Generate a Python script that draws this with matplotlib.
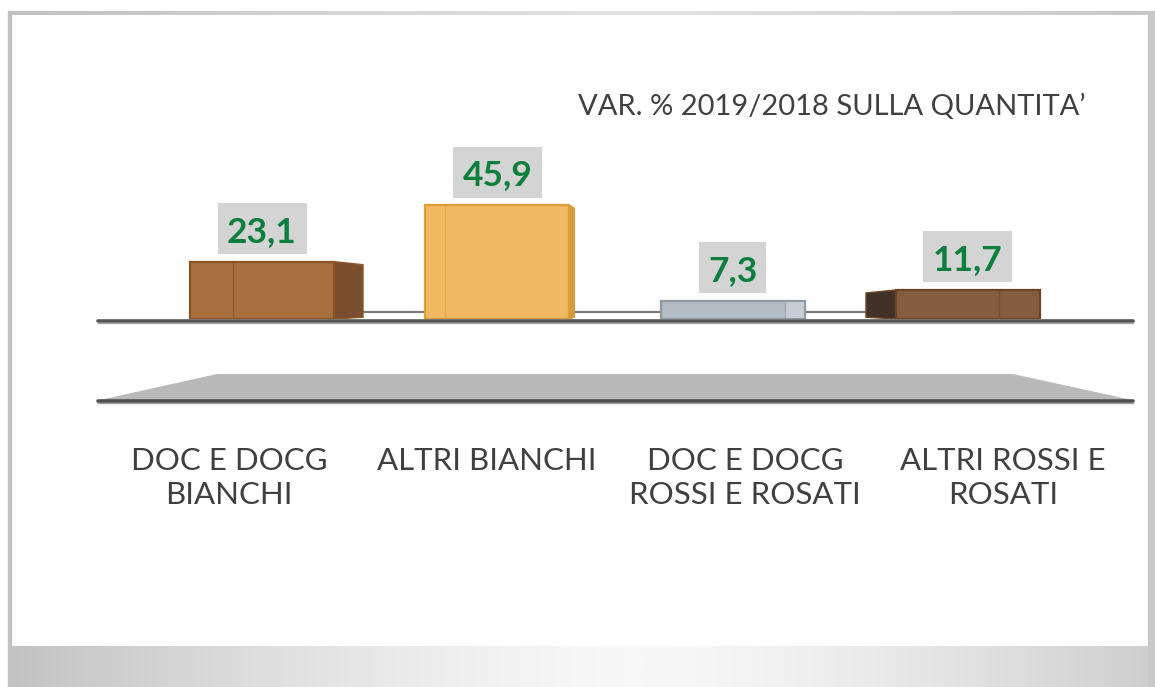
import numpy as np
import matplotlib
matplotlib.use("Agg")
import matplotlib.pyplot as plt
from matplotlib.patches import Rectangle, Polygon
from matplotlib.colors import LinearSegmentedColormap

# ---------------- data ----------------
categories = ["DOC E DOCG\nBIANCHI", "ALTRI BIANCHI",
              "DOC E DOCG\nROSSI E ROSATI", "ALTRI ROSSI E\nROSATI"]
values = [23.1, 45.9, 7.3, 11.7]
value_labels = ["23,1", "45,9", "7,3", "11,7"]
title = "VAR. % 2019/2018 SULLA QUANTITA\u2019"

# ---------------- styles ----------------
front_colors = ["#a96e3d", "#f0b962", "#b3bcc5", "#855c3f"]
edge_colors = ["#8a5426", "#dc9c3a", "#8f99a3", "#6a4526"]
side_colors = ["#7a4f2f", "#d99a3c", "#c9d0d6", "#42322a"]
side_dir = [1, 1, 1, -1]           # +1: side face on right, -1: on left
side_px = [29, 5, 0, 30]           # visible depth of side face (pixels)
inner_px = [43, 20, 20, 41]        # inner perspective line offset (pixels)
inner_from = [-1, -1, 1, 1]        # -1: measured from left edge, +1: from right
green = "#0b7f3b"
txt_gray = "#404040"
FONT = "Lato"

W, H = 1155, 687
fig = plt.figure(figsize=(W / 100, H / 100), dpi=100)
fig.patch.set_facecolor("white")

# ---------------- background / frame (pixel coords) ----------------
bg = fig.add_axes([0, 0, 1, 1])
bg.set_xlim(0, W)
bg.set_ylim(H, 0)
bg.axis("off")

tg = np.linspace(0, 1, 400)
top_vals = 1 - np.abs(tg - 0.55) * 1.6
cm_top = LinearSegmentedColormap.from_list("t", ["#bdbdbd", "#e4e4e4"])
bg.imshow(top_vals[None, :], extent=(8, 1155, 15.5, 11.5), aspect="auto",
          cmap=cm_top, vmin=0, vmax=1, zorder=1)
bg.add_patch(Rectangle((8, 12), 2.5, H - 12, color="#c2c2c2", zorder=1))
bg.add_patch(Rectangle((1148, 14), 7, H - 14, color="#c9c9c9", zorder=1))
bx = np.linspace(0, 1, 600)
band = 1 - np.clip(np.abs(bx - 0.55) / 0.55, 0, 1) ** 1.4
cm_band = LinearSegmentedColormap.from_list("b", ["#c2c2c2", "#f8f8f8"])
bg.imshow(band[None, :], extent=(8, 1148, H, 646), aspect="auto",
          cmap=cm_band, vmin=0, vmax=1, zorder=1)

# floor shadow trapezoid
bg.add_patch(Polygon([(100, 400), (217, 374), (1013, 374), (1132, 400)],
                     closed=True, facecolor="#b9b9b9", edgecolor="none", zorder=2))
bg.plot([98, 1133], [400.5, 400.5], color="#505050", lw=2.6,
        solid_capstyle="round", zorder=3)
bg.plot([98, 1133], [402.5, 402.5], color="#a0a0a0", lw=1.0, zorder=2)
# back edge of floor and front baseline
bg.plot([230, 1000], [312, 312], color="#7a7a7a", lw=1.6, zorder=2)
bg.plot([98, 1133], [320.5, 320.5], color="#555555", lw=2.6,
        solid_capstyle="round", zorder=2)
bg.plot([98, 1133], [322.5, 322.5], color="#a8a8a8", lw=1.0, zorder=2)

# title
fig.text(578 / W, 1 - 107 / H, title, fontsize=21.0, family=FONT,
         color=txt_gray, ha="left", va="center")

# ---------------- bars ----------------
px_per_x = 235.33
x0_px = 262
base_px = 319
px_per_v = 2.48
ax_left = x0_px - 0.5 * px_per_x
ax_w = 4 * px_per_x
ax_h = 300
ymax = ax_h / px_per_v
ax = fig.add_axes([ax_left / W, 1 - base_px / H, ax_w / W, ax_h / H])
ax.set_xlim(-0.5, 3.5)
ax.set_ylim(0, ymax)
ax.axis("off")
ax.patch.set_alpha(0)

x = np.arange(len(values))
bw = 144 / px_per_x
ax.bar(x, values, width=bw, color=front_colors, edgecolor=edge_colors,
       linewidth=1.6, zorder=3)

for i, v in enumerate(values):
    if side_px[i] > 0:
        d = side_px[i] / px_per_x * side_dir[i]
        e = x[i] + side_dir[i] * bw / 2
        sh = 3 / px_per_v
        poly = [(e, 0), (e, v), (e + d, v - sh), (e + d, sh * 0.6)]
        ax.add_patch(Polygon(poly, closed=True, facecolor=side_colors[i],
                             edgecolor=edge_colors[i], lw=1.0, zorder=2))
    off = inner_px[i] / px_per_x
    if inner_from[i] < 0:
        xl = x[i] - bw / 2 + off
    else:
        xl = x[i] + bw / 2 - off
        if i == 2:
            ax.add_patch(Rectangle((xl, 0.5), off - 0.004, v - 1.0,
                                   facecolor="#c6cdd4", edgecolor="none",
                                   zorder=3.5))
    ax.plot([xl, xl], [0.6, v - 0.6], color=edge_colors[i], lw=1.0,
            alpha=0.6, zorder=4)
    # value label box
    n = len(value_labels[i])
    box_w = (22 * n + 1) / px_per_x
    gap = 7.5 / px_per_v
    box_h = 51 / px_per_v
    cx = x[i]
    ax.add_patch(Rectangle((cx - box_w / 2, v + gap), box_w, box_h,
                           facecolor="#d4d4d4", edgecolor="none", zorder=5))
    ax.text(cx, v + gap + box_h / 2, value_labels[i], ha="center",
            va="center_baseline", fontsize=25.5, fontweight="bold",
            family=FONT, color=green, zorder=6)

# ---------------- category labels ----------------
axf = fig.add_axes([100 / W, 1 - 400 / H, 1032 / W, 80 / H])
axf.set_xlim(-0.5, 3.5)
axf.set_ylim(0, 1)
axf.patch.set_alpha(0)
for s in axf.spines.values():
    s.set_visible(False)
axf.set_yticks([])
axf.set_xticks(x)
axf.set_xticklabels(categories, fontsize=22.5, family=FONT, color=txt_gray)
axf.tick_params(axis="x", length=0, pad=34)
for lbl in axf.get_xticklabels():
    lbl.set_linespacing(1.25)

fig.savefig("out.png", dpi=100, facecolor="white")
